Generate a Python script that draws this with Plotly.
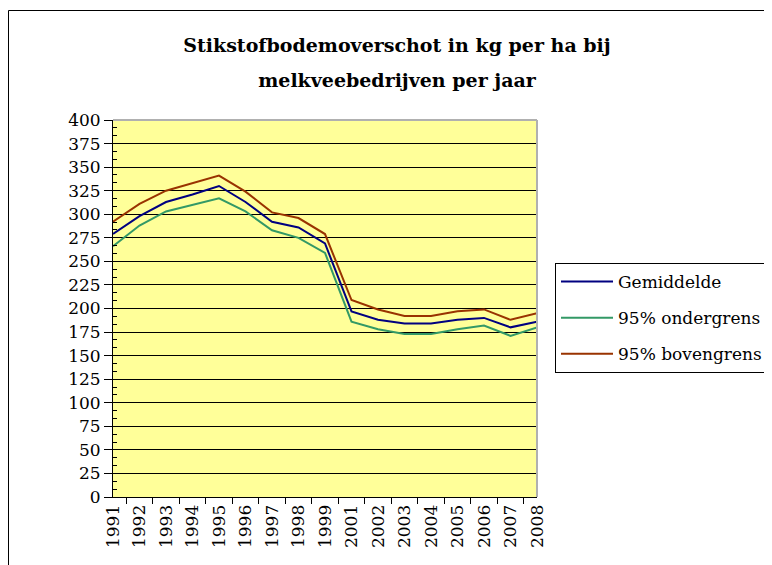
import plotly.graph_objects as go

years = ["1991", "1992", "1993", "1994", "1995", "1996", "1997", "1998", "1999",
         "2001", "2002", "2003", "2004", "2005", "2006", "2007", "2008"]
gemiddelde = [279, 298, 313, 321, 330, 313, 292, 286, 269,
              197, 188, 184, 184, 188, 190, 180, 186]
ondergrens = [266, 288, 303, 310, 317, 303, 283, 275, 259,
              186, 178, 173, 173, 178, 182, 171, 180]
bovengrens = [292, 311, 325, 333, 341, 324, 302, 296, 279,
              209, 199, 192, 192, 197, 199, 188, 195]

y_ticks = list(range(0, 401, 25))

series = [
    ("Gemiddelde", gemiddelde, "#000080"),
    ("95% ondergrens", ondergrens, "#339966"),
    ("95% bovengrens", bovengrens, "#993300"),
]

fig = go.Figure()
for name, vals, col in series:
    fig.add_trace(go.Scatter(x=years, y=vals, name=name, mode="lines",
                             line=dict(color=col, width=2), legendgroup=name))

font_family = "DejaVu Serif"

# page body has an 8px margin: figure coords = screen coords - 8
L, R, T, B = 105, 529, 112, 489
pw, ph = R - L, B - T

title_text = ("<span style='font-size:19px'><b>Stikstofbodemoverschot in kg per ha bij</b></span><br>"
              "<span style='font-size:19px'><b>melkveebedrijven per jaar</b></span>")

fig.update_layout(
    width=772, height=565,
    margin=dict(l=L, r=772 - R, t=T, b=565 - B),
    paper_bgcolor="white",
    plot_bgcolor="#FFFF99",
    font=dict(family=font_family, color="black", size=17),
    title=dict(text=title_text,
               x=389 / 772, xanchor="center", xref="container",
               y=1 - 44 / 565, yanchor="middle", yref="container",
               font=dict(family=font_family, size=27, color="black")),
    showlegend=True,
    legend=dict(x=(547 - L) / pw, xanchor="left", y=(B - 255) / ph, yanchor="top",
                bordercolor="black", borderwidth=1, bgcolor="white",
                font=dict(family=font_family, size=17, color="black"),
                traceorder="grouped", tracegroupgap=11, itemwidth=52),
    xaxis=dict(type="category", categoryorder="array", categoryarray=years,
               showgrid=False, showline=True, linecolor="black", linewidth=1,
               ticks="outside", ticklen=6, tickcolor="black", tickson="boundaries",
               tickangle=-90, tickfont=dict(family=font_family, size=17), zeroline=False),
    yaxis=dict(range=[0, 400], tickvals=y_ticks, showgrid=True, gridcolor="black",
               gridwidth=1, showline=True, linecolor="black", linewidth=1,
               ticks="outside", ticklen=8, tickcolor="black", zeroline=False,
               tickfont=dict(family=font_family, size=17),
               minor=dict(dtick=25 / 3, ticks="inside", ticklen=4, tickcolor="black",
                          showgrid=False)),
    shapes=[
        dict(type="line", xref="paper", yref="paper", x0=0, x1=1, y0=1, y1=1,
             line=dict(color="#B0B0B0", width=2)),
        dict(type="line", xref="paper", yref="paper", x0=1, x1=1, y0=0, y1=1,
             line=dict(color="#B0B0B0", width=2)),
        dict(type="line", xref="paper", yref="paper",
             x0=(0.5 - L) / pw, x1=(0.5 - L) / pw, y0=(B - 2.5) / ph, y1=-0.3,
             line=dict(color="black", width=1)),
        dict(type="line", xref="paper", yref="paper",
             x0=(0.5 - L) / pw, x1=1.7, y0=(B - 2.5) / ph, y1=(B - 2.5) / ph,
             line=dict(color="black", width=1)),
    ],
)

fig.write_html("out.html")
